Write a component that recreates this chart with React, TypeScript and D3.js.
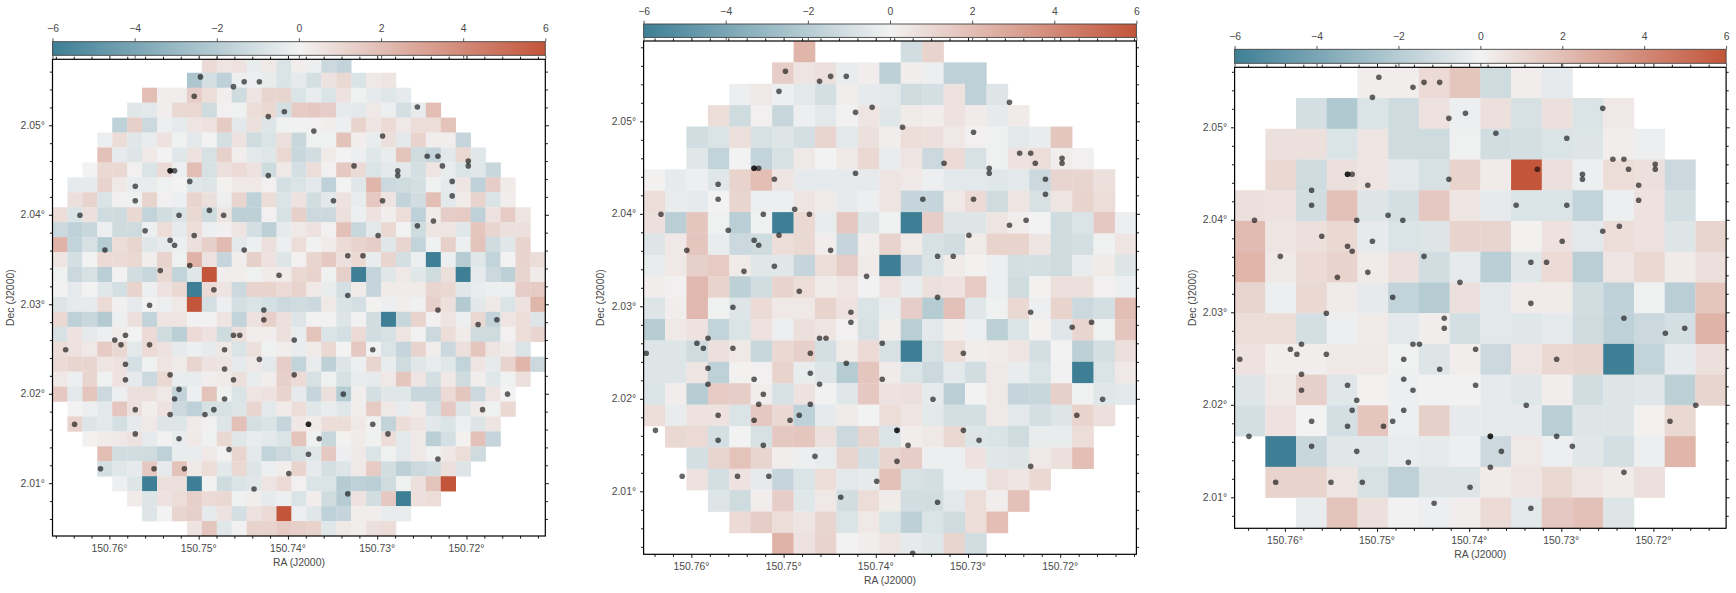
import React, { useEffect, useRef } from 'react';
import * as d3 from 'd3';

// offset maps, one row per list, first list entry of each row sits in column rowStarts[i]
const wideStarts = [10, 9, 6, 5, 4, 3, 3, 2, 1, 1, 0, 0, 0, 0, 0, 0, 0, 0, 0, 0, 0, 0, 0, 1, 1, 2, 3, 3, 4, 5, 6, 9];
const wideRows = [
  [.9, .5, .6, -.3, .4, -.8, .2, -.2, -1.3, -1.6],
  [-2.3, -1, -1.7, -.2, -.2, -.3, -.8, -.4, -1, .6, 1, -.8, .4, .5],
  [2, .2, .2, 1.4, .8, .2, -1.2, .5, 1.1, 1.1, -.8, -.3, -.8, .6, -.1, -.4, -.6, -.4],
  [-.6, -.5, .2, 1, 1, -1.2, .1, -.1, .8, 1, -1, 1.5, 1.6, 1.4, -.4, -.5, .4, -.2, -1, -.3, 2],
  [-1.7, 1.3, -1.3, -.2, -.4, .5, .6, 1.5, -.5, .7, -.7, -.1, -.05, .1, .2, -.2, 1.2, .5, .9, .4, .8, .8, 1.8],
  [-.2, .8, -.6, -.3, .6, -.1, -.5, 0, -1, .6, -1.2, -.8, .7, -1.4, -.1, -.1, 1.8, .2, -.3, .7, -.5, 1.2, .2, .2, -1.5],
  [1.9, -.4, -.7, .4, 0, -.6, .6, -.9, 1.3, .2, -.5, -.6, 1, -1.4, -1.1, .3, 0, -.2, -.6, -.3, 1.8, -1.2, -1.5, -.5, 1, -.6],
  [0, 1, 1, .1, -.8, .9, -.2, 2, -.9, .7, .9, .6, -1.2, .4, -1, .8, .1, 1.6, .9, -.8, -.5, -.5, -1, .5, -.3, -.8, -.6, -1.4],
  [-.4, -.4, 1.2, .4, -.3, -.3, -.1, 0, -.6, -.7, .05, .4, .4, .1, -1, -.8, -.5, -1.7, 0, -.6, 2.3, -1.3, -1.2, -1, -.1, -.4, .5, -1.7, 1.4, .3],
  [.7, 1.2, -.8, .1, -.1, 1.2, .1, -.2, 1.1, .7, -.2, 1.1, -1.7, .8, -.8, .6, -1.1, -.5, .6, -.3, 1.6, .5, -1.6, -1.1, 2, -.5, .3, 1.2, -.8, .2],
  [.8, -.8, .7, -1.2, -1.2, 1, -1.6, -1.1, -.8, 1, -1.2, .5, -1.8, -1.8, .1, -.9, 1.3, -1.3, -1.3, .7, -.2, .6, .2, .8, -1.7, .3, 1.4, 1.5, -1.7, .6, 1.5, .5],
  [-1.3, -1.7, -1.4, -.2, -1.2, -1.2, -.2, .8, -.4, .8, -.2, .1, .5, -1, -1.8, -.4, .4, .6, .1, 1.9, -1.4, -.5, 1, 0, -1.2, .5, .5, -.6, 1.7, 1.1, .7, .7],
  [2.4, -1.6, -.9, -2, .8, 1.1, -.6, -.4, -.2, .7, 1.3, 2.1, -.5, -.2, .7, -.2, .8, -.05, .3, .9, 1.2, 1.4, -.6, 1.1, -1.6, -.1, 1.3, -.2, 1.8, -1.2, -.6, 1.2],
  [.5, -1, 0, .9, .9, 1, .2, 1.2, -.1, 2.4, .6, -1.5, .2, 1.3, .6, -.7, .1, 1.1, 1.6, .7, 1, -.3, 1.1, -1, -.2, -6, -.2, -2, -.6, -1.6, 0, 1.2, .8],
  [-.1, -1.3, -.9, -1.9, -.05, -1.1, -1.4, 1, -1.6, -.6, 6, .2, .2, -.1, .3, .3, 1, 1.2, -.1, 1.3, -6, -1.5, -.6, .4, -.6, -1.2, .7, -6, -.4, -1.3, -1.8, 1.1, .3],
  [-.05, -.4, 0, -.6, -1, 1.2, -.2, .6, 1, -6, .9, .5, -1.3, 1.2, 1.2, .9, 1.2, .4, -.3, -1, .3, -1.5, .3, .3, .3, 1.1, 1, -.6, -.3, -.2, -.2, 1.4, 1.5],
  [-.7, -.4, -.4, .9, .1, -.4, 0, -.2, .4, 6, -1, -.2, -1, -.8, -1, -1.3, -1.2, -1.3, .4, -.8, -1, .05, -.2, .2, -.1, 1.3, .7, -2.1, -.5, .4, -.8, .6, 2.3],
  [1, -1.7, -1.4, -2.1, -.2, .7, -1.6, .5, .5, -.05, -.05, .5, -1.6, .6, 1.3, .7, -.7, -.05, -.05, -.7, -.05, -1.1, -6, -1.4, 1.2, .1, .5, -.2, 1, -1.6, .5, .8, -.7],
  [-.9, .6, -.4, -.2, .3, 0, .9, -1.2, -1.9, .9, .6, -1.2, .7, .2, .2, .7, -.3, 1.8, -.8, -1, .9, -1.1, -.9, .5, -.05, -1.3, .8, .3, -1.2, -1.2, .1, .8, 1.1],
  [.8, .6, .4, 1.5, 1, -.5, .9, .6, -.4, -.2, -.4, .4, -.8, .7, -.1, .2, -.3, .3, 1, 0, 1.6, -.05, -.8, -1.5, 1.2, .2, -1.3, .7, 1.7, .5, .3, -.8],
  [.9, 1.1, 1.1, .5, .6, -1, -.1, .5, .3, 1.1, .6, .5, -.4, .4, -.5, 1.4, -1.6, -.3, -1.8, -.7, -.2, 1.1, -.3, -1.2, -.6, -.3, -.6, -1.6, .5, -.4, 1.2, 2.3, -1.3],
  [.4, -.2, 1.1, -.1, .6, -.4, -1.3, 1, -.3, -.3, .2, .3, .7, -.3, .2, 1.3, .9, -.9, -.1, -.9, -.3, -.4, .4, 1.7, .5, -1, .4, -1.2, .2, -.6, -.1, .7],
  [1.6, -.5, 1.7, -1.3, -.2, .7, .7, .4, -1.6, -.2, 1.8, -.1, -.8, .5, .6, 1.2, -.4, -1.5, .7, -2, .2, -1, -.6, -.6, -1.4, -1.4, .9, 1.7, -1.3, .5, 0],
  [0, -.2, -.5, 1.7, .7, .2, .6, -1.3, -1.7, -.9, -.9, -.7, 1.1, -.5, .3, .8, -.6, -.3, -.6, .2, 1.5, .4, -.3, .3, -1, 1.6, -.7, .3, -.1, 1],
  [1.2, -.7, -.5, -1, -.4, .4, -.7, -.7, .3, .1, -.7, 1.9, -1, -.8, -1.5, .4, .3, .8, .8, .4, -.1, -1.6, .8, .5, -.5, -.8, -.2, -.7, .5],
  [.05, .3, .4, .6, -.4, -.05, -.3, .4, -.1, 1, -.6, -.3, -.5, -.8, 1.8, -.1, -1.4, .05, .3, -.1, .8, -.5, .4, -1.9, -1, .05, 1.9, -1.5],
  [2, -1.1, -1.1, -1.2, -1.7, -.3, -.3, .4, -.05, 1.1, -.5, -1.6, -1.3, -.9, -.6, 1.6, -.2, .4, -.8, -.1, -.5, .4, -.1, .4, .8, -1.2],
  [-1, -.6, -.4, 1.6, -.4, 1.8, .4, .8, -.5, 1, -.7, -.2, .2, 1.2, -.4, -1, -.7, .4, 1.5, -1.1, -1.8, -1.3, -1.1, .7, -.7],
  [-.2, -.7, -6, .7, .7, -6, -.05, -1.2, -.8, -.6, .5, .9, .1, -.8, -.8, -2, -1.7, -1.9, -1.2, -.1, .7, 1.8, 6],
  [.3, -.7, .6, .8, 1.3, .9, 1, -.1, .2, -.4, -.2, -.8, .2, -1.2, -2, .6, -1.1, 1.6, -6, .7, .8],
  [-.7, 0, 1.1, 1.3, -.4, .6, -1, .6, .9, 6, -.2, -.6, -1.7, -1.5, .2, .2, -.3, -.3],
  [.5, 1.7, -.6, -.05, 1.2, 1.2, 1.5, 1.3, 1.2, -.6, .4, .2, .7, .8],
];

const midStarts = [7, 6, 4, 3, 2, 2, 0, 0, 0, 0, 0, 0, 0, 0, 0, 0, 0, 0, 1, 2, 2, 3, 4, 6];
const midRows = [
  [2.3, null, null, null, null, -1.1, 1.2],
  [1.4, .5, .7, -.3, .2, -1.8, .2, -.2, -1.7, -1.7],
  [-.2, .4, -.2, -.5, -1, .2, -.4, -.5, -1.2, -1, .6, -1.7, -.7],
  [.8, -1.2, .1, -1.4, -.2, -.5, -.05, .5, -.6, .3, .2, .6, .3, -.4, .3],
  [-1.1, -.8, .7, -.9, -.7, -1, 1.1, -.5, .7, .2, .8, .7, .4, .1, -.1, -.5, -.3, 1.7],
  [-.6, -1.6, 0, -1.6, -.9, .4, 0, .4, 1, -.3, .5, -1.3, .9, -.9, -.1, .6, .8, .2, .1],
  [.05, -.4, -.2, -.6, 1.2, 2, .5, -.4, -.4, -.4, -.4, .5, .4, -.2, -.5, -.5, -.6, -.5, -1.3, 1.1, 1.1, .7],
  [.8, -.3, -.4, 0, 1.1, -.2, -.2, .5, .3, -.4, -.2, .5, -1.5, -1.5, .4, .9, -1.2, .5, -.9, .5, 1.2, .8],
  [.7, -1.9, 1.7, -.1, -1.9, -.1, -6, 1, -.3, 1.6, -.7, -.1, -6, 1.4, -.7, -.7, .5, .2, 0, -1.2, -.8, 1.6, -.2],
  [-.7, .4, 1.7, -.3, -1.3, -1.2, .8, 1, .2, -1.5, .2, 1.2, .3, -.9, -1.1, .3, 1.2, 1.2, .5, -1.2, -1, -.1, .5],
  [-.3, .4, 1.3, 1.5, .3, -.6, -.6, -1.5, .8, 1.4, .3, -6, -1.5, -.8, .3, .05, -.2, -1, -1, -1.2, -.3, .3, -.7],
  [.2, .1, 2.2, 1.2, -1.8, -1.1, 1.2, .8, .3, .5, -.05, .6, -.3, .7, .6, 1.5, -.2, -1.2, .05, .7, .7, .1, -.2],
  [-.7, .2, 2.2, -.1, -.7, .9, .4, .4, 1.2, .6, -.8, -.3, 1.4, -2, 1.9, -.6, -.1, 1, -.2, 1.2, -1.3, -1, 2],
  [-2, .4, .6, -1.6, -.8, .6, -.2, .7, .5, .1, -.9, .2, -1.9, -.5, .2, -.2, -1.8, -.8, .05, -.6, 1.1, -.1, 1.7],
  [-.7, -.7, -1.2, .7, .4, -1.4, 1, 1.3, -1, .3, .9, -.9, -6, -.9, .8, .2, .3, .5, -1, 0, -1.8, -1, .7],
  [-.7, -.7, .5, -1.7, .05, .1, 1.2, -.3, -.7, -2, 1.7, .3, -.8, -1.3, -.5, -1.1, .4, -.3, -.8, -.05, -6, -.8, .4],
  [-.8, .2, -2, 1.5, 1.4, .2, -.9, .6, -.05, -.6, 1.6, .6, .7, -.4, -1.9, 0, .4, -1.5, -1.4, 1.3, -.1, -.6, -.5],
  [.8, -.3, .6, .6, -.8, 1.6, 1, -1.7, -.4, .3, 0, .8, .5, -.5, -1, -1, .4, -.5, -1, -.7, 1.2, .7],
  [1, .9, -1, 0, -.9, 1.6, 1.7, .7, -1.3, 1.1, -.8, .2, .4, 1, -.7, -.8, -1.2, -.3, -.3, .8],
  [-1, 1.1, 1.8, 1.1, .2, -.2, -.3, 1.1, -1, 1.1, 1.4, -.2, -.2, .6, -.6, -.7, .4, .7, 2],
  [.6, -1, .6, -.4, -1.5, -.8, .8, -.5, -.4, 1.9, -.9, -1, -.2, -.2, .7, .5, 1],
  [-.7, -1.2, .2, 1.4, -.6, .4, -1.1, .8, .3, -1.1, -1.1, -.5, .8, .2, 1.9],
  [.9, 1.4, .8, .5, 1.1, -.8, .4, -.8, -1.8, -.8, -1.2, .8, 2],
  [2.4, .6, 1.2, 0, .2, .5, -.4, -.6, 1.1, -1.1],
];

const coarseStarts = [4, 2, 1, 1, 0, 0, 0, 0, 0, 0, 0, 0, 1, 1, 2];
const coarseRows = [
  [.2, .2, .9, 1.7, -1.2, .2, -.4],
  [-1, -2.2, -.8, -1.2, .6, -.2, .7, -.9, .7, -.8, .4],
  [.7, .7, -.8, .5, -1.2, -1.2, -.1, -1.1, -1, -.8, -.7, .2, -.2],
  [1, -1.2, .7, .5, -.5, -.9, 1.2, .3, 6, .7, -.2, .8, .7, -1.3],
  [.7, .6, -1.1, 1.9, -.7, -1, 1.6, .5, -.4, -.8, -.8, -1.6, -.2, .6, -1],
  [2.1, .5, .7, 1, -.4, -.8, -.7, 1.2, 1.1, .05, .6, -.5, .8, .6, -.7, 1.1],
  [2.3, .4, .9, 1.2, .3, .7, -1.1, -.4, -1.9, -.6, .9, -1.9, .5, 1, .3, .7],
  [1.1, -.2, 1, .3, -.4, -1.6, -2, .7, -.5, .3, .3, -1.1, -1.7, -.1, -1.9, 1.7],
  [.8, .8, -1, -.2, .3, -.5, .2, -1, -.5, -.6, -.4, -1.2, -1.7, -1.3, -1, 2.4],
  [.6, .2, .2, .4, .4, -.1, -.7, .2, -1.3, .5, 1, 1.1, -6, -1.6, -.4, .7],
  [-.7, .4, 1.3, -.6, .05, -.2, -.05, -.05, -.4, -.6, .2, -1.1, -.7, -.6, -1.8, 1.1],
  [-1, .6, 0, -1, 1.7, -.2, 1.3, -.4, -.4, -.4, -1.9, -.7, -.7, .05, 1],
  [-6, -1.4, -.6, -.6, -.3, -.4, -.2, -1.3, .4, -.2, -.6, -1, -.2, 2.3],
  [1.2, 1.2, .5, -.9, -1.7, -.7, -.7, .3, .5, 1, .5, .3, .7],
  [-.3, 1.8, .7, -.05, -.2, .2, .9, -.5, 1.6, 1.9, -.7],
];

const sourceRa = [
  150.7498, 150.7461, 150.7449, 150.7432, 150.7505, 150.7255, 150.7422, 150.7404, 150.7371, 150.7294,
  150.7244, 150.7232, 150.7198, 150.7198, 150.7227, 150.7326, 150.7532, 150.7532, 150.7527, 150.7277,
  150.7277, 150.7422, 150.751, 150.7216, 150.7571, 150.7216, 150.7571, 150.7349, 150.7294, 150.7488,
  150.7522, 150.7472, 150.7633, 150.7237, 150.7255, 150.756, 150.7505, 150.7299, 150.7532, 150.7527,
  150.7605, 150.7449, 150.7333, 150.7316, 150.751, 150.7543, 150.741, 150.7483, 150.7333, 150.7555,
  150.7427, 150.7232, 150.7427, 150.7166, 150.7187, 150.7582, 150.7461, 150.7454, 150.7594, 150.7393,
  150.7587, 150.7555, 150.7649, 150.7471, 150.7305, 150.7432, 150.7582, 150.7471, 150.7532, 150.7393,
  150.7582, 150.7461, 150.7522, 150.7338, 150.7154, 150.7527, 150.7471, 150.7571, 150.7483, 150.7182,
  150.7532, 150.7493, 150.7639, 150.7377, 150.7377, 150.7305, 150.7571, 150.7288, 150.7522, 150.7365,
  150.7466, 150.7377, 150.7232, 150.761, 150.755, 150.7516, 150.7399, 150.7438, 150.7333, 150.736,
];
const sourceDec = [
  2.05541, 2.05432, 2.05486, 2.05486, 2.05324, 2.05205, 2.05097, 2.05151, 2.04935, 2.04881,
  2.04654, 2.04654, 2.046, 2.04546, 2.04546, 2.04546, 2.04492, 2.04492, 2.04492, 2.04492,
  2.04438, 2.04438, 2.04373, 2.04373, 2.04319, 2.04211, 2.04157, 2.04157, 2.04157, 2.04049,
  2.03995, 2.03995, 2.03995, 2.0393, 2.03876, 2.03822, 2.03768, 2.03768, 2.03714, 2.0366,
  2.03605, 2.03605, 2.03541, 2.03541, 2.03432, 2.03378, 2.03324, 2.03162, 2.03097, 2.02989,
  2.02935, 2.02935, 2.02827, 2.02827, 2.02773, 2.02654, 2.02654, 2.02654, 2.026, 2.026,
  2.02546, 2.02546, 2.02492, 2.02492, 2.02492, 2.02384, 2.0233, 2.02276, 2.02211, 2.02211,
  2.02157, 2.02157, 2.02049, 2.01995, 2.01995, 2.01941, 2.01941, 2.01822, 2.01822, 2.01822,
  2.01768, 2.01768, 2.01659, 2.01659, 2.01659, 2.01659, 2.01551, 2.01551, 2.01497, 2.01497,
  2.01378, 2.01324, 2.0127, 2.01162, 2.01162, 2.01162, 2.01108, 2.00935, 2.00881, 2.0033,
];

const raLabels = [150.76, 150.75, 150.74, 150.73, 150.72];
const decLabels = [2.05, 2.04, 2.03, 2.02, 2.01];
const barTicks = [-6, -4, -2, 0, 2, 4, 6];
const paletteStops = ['#3e7f95', '#f2f2f2', '#c2553a'];

const valueColor = d3.scaleLinear<string>().domain([-6, 0, 6]).range(paletteStops).clamp(true);

const panels = [
  {
    id: 'a', starts: wideStarts, rows: wideRows, nCols: 33, nRows: 32,
    left: 52.5, right: 545.3, top: 59.3, bottom: 536, gridTop: 57.8, barTop: 41.7, barBottom: 55.3,
    raPx: [109.4, 466.5], decPx: [125.3, 483.2], decLabelX: 10,
  },
  {
    id: 'b', starts: midStarts, rows: midRows, nCols: 23, nRows: 24,
    left: 643.6, right: 1136.4, top: 41, bottom: 554.3, gridTop: 41, barTop: 24, barBottom: 37.4,
    raPx: [691.4, 1060.2], decPx: [121.3, 491.3], decLabelX: 600,
  },
  {
    id: 'c', starts: coarseStarts, rows: coarseRows, nCols: 16, nRows: 15,
    left: 1234.6, right: 1726.1, top: 67.3, bottom: 528.3, gridTop: 67.3, barTop: 49.3, barBottom: 63.3,
    raPx: [1284.9, 1653.4], decPx: [127.3, 497.3], decLabelX: 1192,
  },
];

const TEXT = '#4a4a4a';
const BAR_LINE = '#444444';
const FONT_SIZE = 10.4;

function styleAxis(g: d3.Selection<SVGGElement, unknown, null, undefined>, color: string, width = 0.9) {
  g.select('.domain').remove();
  g.selectAll('line').attr('stroke', color).attr('stroke-width', width);
  g.selectAll('text').attr('fill', TEXT).attr('font-size', FONT_SIZE).attr('font-family', '"Liberation Sans", Arial, sans-serif');
}

export default function App() {
  const ref = useRef<SVGSVGElement>(null);

  useEffect(() => {
    const svg = d3.select(ref.current);
    svg.selectAll('*').remove();
    const defs = svg.append('defs');

    panels.forEach((p) => {
      const ra = d3.scaleLinear().domain([raLabels[0], raLabels[4]]).range(p.raPx);
      const dec = d3.scaleLinear().domain([decLabels[0], decLabels[4]]).range(p.decPx);
      const colX = d3.scaleLinear().domain([0, p.nCols]).range([p.left, p.right]);
      const rowY = d3.scaleLinear().domain([0, p.nRows]).range([p.gridTop, p.bottom]);

      defs.append('clipPath').attr('id', 'clip-' + p.id)
        .append('rect')
        .attr('x', p.left).attr('y', p.top)
        .attr('width', p.right - p.left).attr('height', p.bottom - p.top);

      const root = svg.append('g');
      const plot = root.append('g').attr('clip-path', `url(#clip-${p.id})`);

      // cells
      const cells = p.rows.flatMap((row, r) =>
        row.map((v, i) => ({ r, c: p.starts[r] + i, v })).filter((d) => d.v !== null)
      );
      plot.append('g').selectAll('rect').data(cells).join('rect')
        .attr('x', (d) => colX(d.c))
        .attr('y', (d) => rowY(d.r))
        .attr('width', colX(1) - colX(0) + 0.3)
        .attr('height', rowY(1) - rowY(0) + 0.3)
        .attr('fill', (d) => valueColor(d.v as number));

      // sources, two of them are doubled up so they come out darker
      plot.append('g').selectAll('circle').data(sourceRa).join('circle')
        .attr('cx', (d) => ra(d))
        .attr('cy', (_, i) => dec(sourceDec[i]))
        .attr('r', 2.8)
        .attr('fill', '#000')
        .attr('fill-opacity', 0.6);

      // spines
      root.append('rect')
        .attr('x', p.left).attr('y', p.top)
        .attr('width', p.right - p.left).attr('height', p.bottom - p.top)
        .attr('fill', 'none').attr('stroke', '#000').attr('stroke-width', 1.2);

      // wcs ticks
      const raMinor = d3.range(75350, 75395).map((d) => d * 0.002).filter((d) => ra(d) > p.left + 1 && ra(d) < p.right - 1);
      const decMinor = d3.range(1000, 1032).map((d) => d * 0.002).filter((d) => dec(d) > p.top + 1 && dec(d) < p.bottom - 1);
      const isRaMajor = (d: number) => raLabels.some((t) => Math.abs(t - d) < 1e-6);
      const isDecMajor = (d: number) => decLabels.some((t) => Math.abs(t - d) < 1e-6);

      const axes: [string, any, number[], string][] = [
        ['bottom', d3.axisBottom(ra), raMinor, `translate(0,${p.bottom})`],
        ['top', d3.axisTop(ra), raMinor, `translate(0,${p.top})`],
        ['left', d3.axisLeft(dec), decMinor, `translate(${p.left},0)`],
        ['right', d3.axisRight(dec), decMinor, `translate(${p.right},0)`],
      ];
      axes.forEach(([side, axis, vals, tr]) => {
        const g = root.append('g').attr('transform', tr);
        g.call(axis.tickValues(vals).tickSize(2.6).tickFormat(() => ''));
        styleAxis(g as any, '#000');
        const major = side === 'bottom' || side === 'top' ? isRaMajor : isDecMajor;
        g.selectAll('.tick').filter((d: any) => major(d)).select('line')
          .each(function () {
            const line = d3.select(this);
            if (side === 'bottom') line.attr('y2', 3.6);
            if (side === 'top') line.attr('y2', -3.6);
            if (side === 'left') line.attr('x2', -3.6);
            if (side === 'right') line.attr('x2', 3.6);
          });
      });

      // labels
      root.append('g').selectAll('text').data(raLabels).join('text')
        .attr('x', (d) => ra(d)).attr('y', p.bottom + 15.8)
        .attr('text-anchor', 'middle')
        .attr('fill', TEXT).attr('font-size', FONT_SIZE)
        .text((d) => d3.format('.2f')(d) + '°');
      root.append('g').selectAll('text').data(decLabels).join('text')
        .attr('x', p.left - 7.5).attr('y', (d) => dec(d) + 3.6)
        .attr('text-anchor', 'end')
        .attr('fill', TEXT).attr('font-size', FONT_SIZE)
        .text((d) => d3.format('.2f')(d) + '°');
      root.append('text')
        .attr('x', (p.left + p.right) / 2).attr('y', p.bottom + 30)
        .attr('text-anchor', 'middle')
        .attr('fill', TEXT).attr('font-size', FONT_SIZE)
        .text('RA (J2000)');
      root.append('text')
        .attr('transform', `translate(${p.decLabelX},${(p.top + p.bottom) / 2}) rotate(-90)`)
        .attr('text-anchor', 'middle')
        .attr('dy', 3.6)
        .attr('fill', TEXT).attr('font-size', FONT_SIZE)
        .text('Dec (J2000)');

      // colorbar
      const bar = d3.scaleLinear().domain([-6, 6]).range([p.left, p.right]);
      const grad = defs.append('linearGradient').attr('id', 'grad-' + p.id);
      d3.range(-6, 6.01, 1).forEach((v) => {
        grad.append('stop').attr('offset', `${((v + 6) / 12) * 100}%`).attr('stop-color', valueColor(v));
      });
      root.append('rect')
        .attr('x', p.left).attr('y', p.barTop)
        .attr('width', p.right - p.left).attr('height', p.barBottom - p.barTop)
        .attr('fill', `url(#grad-${p.id})`)
        .attr('stroke', BAR_LINE).attr('stroke-width', 0.9);
      const barTop = root.append('g').attr('transform', `translate(0,${p.barTop})`);
      barTop.call(d3.axisTop(bar).tickValues(barTicks).tickSize(3.4).tickPadding(6).tickFormat(d3.format('d') as any));
      styleAxis(barTop as any, BAR_LINE);
      const barBottom = root.append('g').attr('transform', `translate(0,${p.barBottom})`);
      barBottom.call(d3.axisBottom(bar).tickValues(barTicks).tickSize(3.4).tickFormat(() => ''));
      styleAxis(barBottom as any, BAR_LINE);
    });
  }, []);

  return (
    <svg
      ref={ref}
      width={1736}
      height={593}
      style={{ position: 'absolute', left: 0, top: 0, display: 'block', fontFamily: '"Liberation Sans", Arial, sans-serif' }}
    />
  );
}
